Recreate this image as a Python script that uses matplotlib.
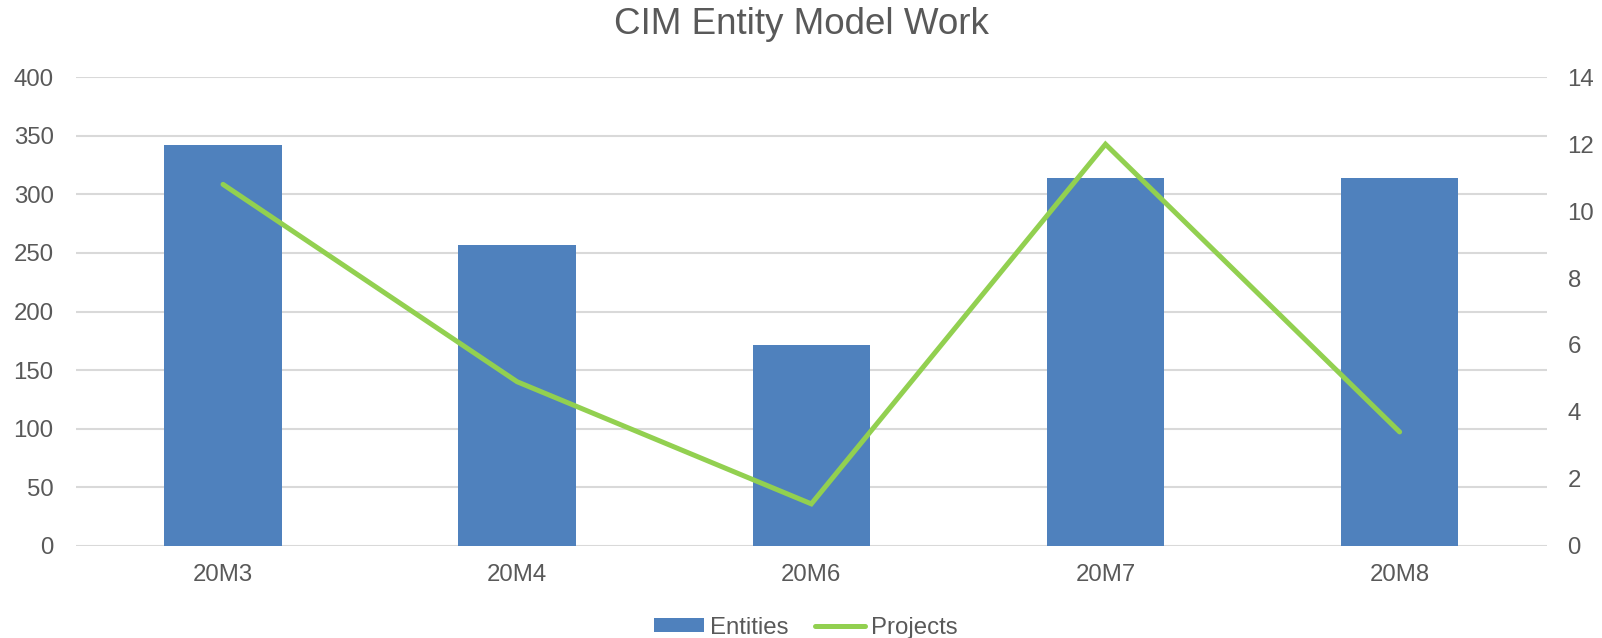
import matplotlib.pyplot as plt

plt.rcParams["font.family"] = ["Liberation Sans", "DejaVu Sans"]

months = ["20M3", "20M4", "20M6", "20M7", "20M8"]
entities = [342, 257, 171, 314, 314]
projects = [10.8, 4.9, 1.25, 12.0, 3.4]

TEXT = "#595959"
GRID = "#D9D9D9"
BLUE = "#4F81BD"
GREEN = "#92D050"

fig = plt.figure(figsize=(16.02, 6.38), dpi=100)
ax = fig.add_axes([0.0474, 0.1447, 0.9181, 0.7341])
ax2 = ax.twinx()

x = range(len(months))
ax.bar(x, entities, width=0.4, color=BLUE, label="Entities", zorder=2)
ax2.plot(x, projects, color=GREEN, linewidth=3.6, solid_capstyle="round",
         solid_joinstyle="miter", label="Projects", zorder=3)

ax.set_xlim(-0.5, len(months) - 0.5)
ax.set_ylim(0, 400)
ax.set_yticks(range(0, 401, 50))
ax2.set_ylim(0, 14)
ax2.set_yticks(range(0, 15, 2))

ax.set_xticks(list(x))
ax.set_xticklabels(months)

ax.grid(axis="y", color=GRID, linewidth=1.5, zorder=0)
ax.set_axisbelow(True)

for a in (ax, ax2):
    for s in a.spines.values():
        s.set_visible(False)
    a.tick_params(length=0, labelsize=17.3, labelcolor=TEXT)
ax.tick_params(axis="y", pad=16)
ax.tick_params(axis="x", pad=13)
ax2.tick_params(axis="y", pad=15)

ax2.patch.set_visible(False)
ax2.set_zorder(2)
ax.set_zorder(1)

fig.suptitle("CIM Entity Model Work", fontsize=26.5, color=TEXT,
             y=0.962, va="center")

h1, l1 = ax.get_legend_handles_labels()
h2, l2 = ax2.get_legend_handles_labels()
fig.legend(h1 + h2, l1 + l2, loc="lower center", bbox_to_anchor=(0.503, -0.035),
           ncol=2, frameon=False, fontsize=17.3, labelcolor=TEXT,
           handlelength=2.1, handleheight=0.55, handletextpad=0.25,
           columnspacing=1.1)

fig.savefig("out.png", dpi=100)
